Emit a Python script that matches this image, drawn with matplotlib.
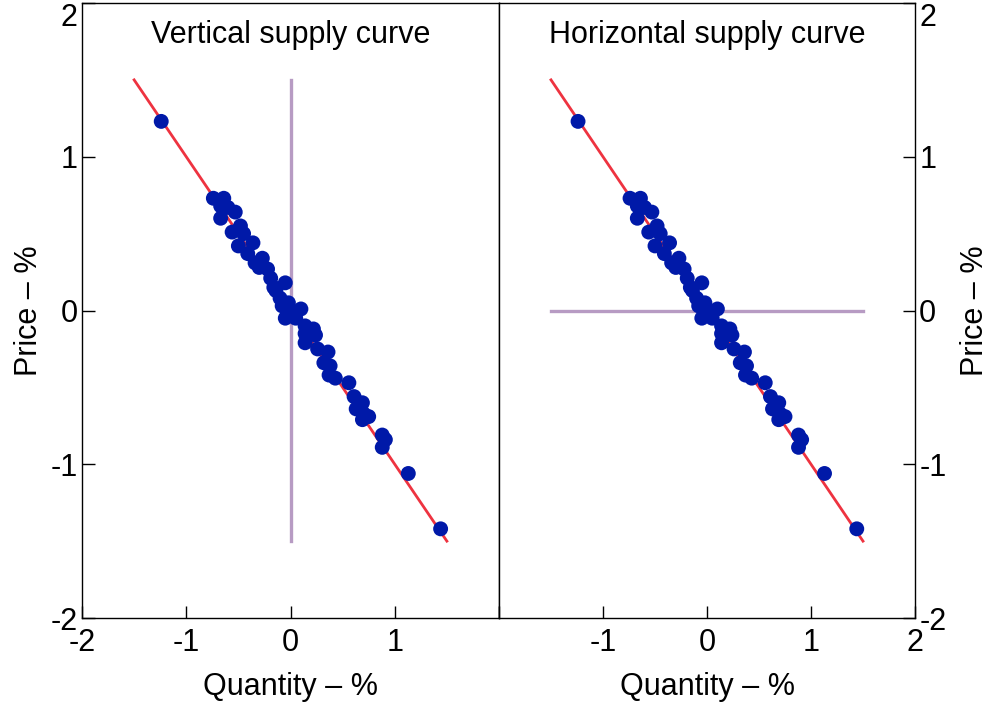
import matplotlib.pyplot as plt

plt.rcParams['font.family'] = ['Liberation Sans', 'DejaVu Sans']

quantity = [-1.24, -0.74, -0.64, -0.67, -0.60, -0.53, -0.67, -0.48, -0.56, -0.45,
            -0.50, -0.36, -0.41, -0.27, -0.34, -0.22, -0.19, -0.05, -0.14, -0.10,
            -0.02, 0.10, -0.05, 0.05, 0.14, 0.22, 0.14, 0.24, 0.14, 0.26,
            0.36, 0.32, 0.38, 0.37, 0.43, 0.56, 0.61, 0.69, 0.63, 0.70,
            0.75, 0.69, 0.88, 0.91, 0.88, 1.13, 1.44, -0.08, 0.02, -0.30,
            -0.16, 0.00]
price = [1.23, 0.73, 0.73, 0.68, 0.67, 0.64, 0.60, 0.55, 0.51, 0.50,
         0.42, 0.44, 0.37, 0.34, 0.31, 0.27, 0.21, 0.18, 0.13, 0.08,
         0.05, 0.01, -0.05, -0.05, -0.10, -0.12, -0.15, -0.16, -0.21, -0.25,
         -0.27, -0.34, -0.36, -0.42, -0.44, -0.47, -0.56, -0.60, -0.64, -0.67,
         -0.69, -0.71, -0.81, -0.84, -0.89, -1.06, -1.42, 0.03, -0.02, 0.28,
         0.15, 0.00]

# Demand line and supply curves
demand_x = [-1.5, 1.5]
demand_y = [1.5, -1.5]
vertical_x = [0, 0]
vertical_y = [-1.5, 1.5]
horizontal_x = [-1.5, 1.5]
horizontal_y = [0, 0]

titles = ['Vertical supply curve', 'Horizontal supply curve']
ticks = [-2, -1, 0, 1, 2]

red = '#ee3340'
blue = '#0019a8'
purple = '#b79bc3'
fs = 22

fig = plt.figure(figsize=(9.91, 7.07), dpi=100)
W, H = 991, 707
ax1 = fig.add_axes([82 / W, 89 / H, 417 / W, 615 / H])
ax2 = fig.add_axes([499 / W, 89 / H, 416 / W, 615 / H])

for i, ax in enumerate([ax1, ax2]):
    if i == 0:
        ax.plot(vertical_x, vertical_y, color=purple, lw=2.4, zorder=1)
    else:
        ax.plot(horizontal_x, horizontal_y, color=purple, lw=2.4, zorder=1)
    ax.plot(demand_x, demand_y, color=red, lw=2, zorder=2)
    ax.scatter(quantity, price, s=115, color=blue, edgecolors='none', zorder=3)
    ax.set_xlim(-2, 2)
    ax.set_ylim(-2, 2)
    ax.text(0.5, 0.948, titles[i], transform=ax.transAxes, ha='center',
            va='center', fontsize=fs)
    ax.set_xticks(ticks)
    ax.set_yticks(ticks)
    ax.set_yticklabels(['-2', '-1', '0', '1', '2'])
    ax.set_xlabel('Quantity – %', fontsize=fs, labelpad=10)
    for s in ax.spines.values():
        s.set_linewidth(1)
    ax.tick_params(direction='in', length=9, width=1, labelsize=fs)
    ax.tick_params(axis='x', pad=7)
    ax.tick_params(axis='y', pad=3)

ax1.set_ylabel('Price – %', fontsize=fs, labelpad=5)
ax1.set_xticklabels(['-2', '-1', '0', '1', ''])
ax2.set_xticklabels(['', '-1', '0', '1', '2'])
ax2.yaxis.tick_right()
ax2.yaxis.set_label_position('right')
ax2.set_ylabel('Price – %', fontsize=fs, labelpad=10)
ax2.tick_params(axis='y', direction='in', length=9, width=1, labelsize=fs, pad=3)

# top label sits just under the frame, as in the original
for ax in [ax1, ax2]:
    ax.get_yticklabels()[-1].set_va('top')

fig.savefig('out.png', dpi=100)
